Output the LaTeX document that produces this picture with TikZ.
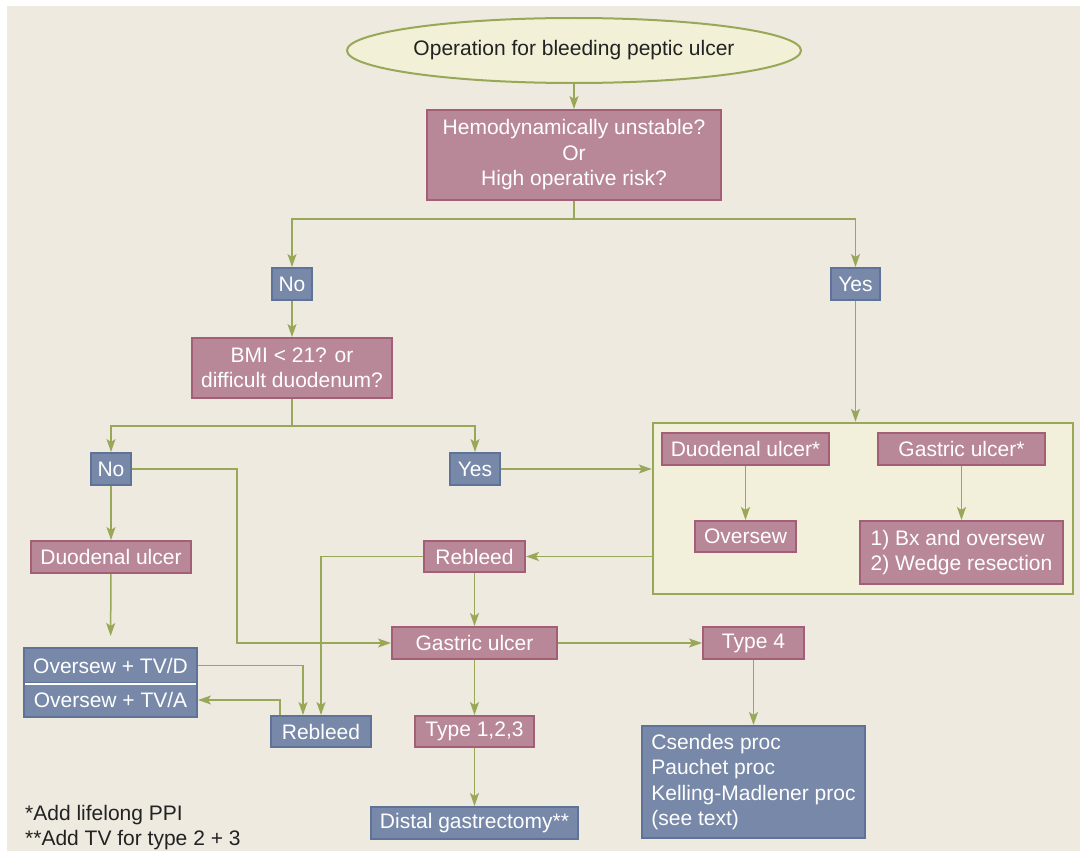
\documentclass[tikz,border=0pt]{standalone}
\usepackage{fontspec}
\setmainfont{Liberation Sans}
\usetikzlibrary{arrows.meta,shapes.geometric}
\definecolor{bg}{HTML}{EEEAE0}
\definecolor{pinkfill}{HTML}{B98898}
\definecolor{pinkdraw}{HTML}{A35E78}
\definecolor{bluefill}{HTML}{7788A8}
\definecolor{bluedraw}{HTML}{5F7398}
\definecolor{lgreen}{HTML}{98A858}
\definecolor{contfill}{HTML}{F2F0DA}
\definecolor{ellfill}{HTML}{F2F1D8}
\definecolor{ink}{HTML}{222222}
\begin{document}
\begin{tikzpicture}[x=1pt,y=-1pt,
  every node/.style={font=\fontsize{21}{25.5}\selectfont, inner sep=0pt},
  pbox/.style 2 args={rectangle, draw=pinkdraw, fill=pinkfill, line width=2pt, text=white, align=center, minimum width=#1pt, minimum height=#2pt},
  bbox/.style 2 args={rectangle, draw=bluedraw, fill=bluefill, line width=2pt, text=white, align=center, minimum width=#1pt, minimum height=#2pt},
  arr/.style={draw=lgreen, line width=1.5pt, -{Stealth[length=13pt,width=9pt,inset=3pt]}},
  ln/.style={draw=lgreen, line width=1.5pt}
]
\useasboundingbox (0,0) rectangle (1080,851);
\fill[white] (0,0) rectangle (1080,851);
\fill[bg] (7,6) rectangle (1080,851);

% container
\node[rectangle, draw=lgreen, fill=contfill, line width=2.5pt, minimum width=420pt, minimum height=171pt] (cont) at (863,508.5) {};

\node[ellipse, draw=lgreen, fill=ellfill, line width=2pt, text=ink, minimum width=376pt, minimum height=65pt] (ell) at (574,50.5) {Operation for bleeding peptic ulcer};
\node[pbox={294}{90}] (hemo) at (574,155) {Hemodynamically unstable?\\Or\\High operative risk?};
\node[bbox={40}{32}] (no1) at (292,284) {No};
\node[bbox={49}{32}] (yes1) at (855.5,284) {Yes};
\node[pbox={200}{60}] (bmi) at (292,368) {BMI < 21? or\\difficult duodenum?};
\node[bbox={40}{32}] (no2) at (111,469) {No};
\node[bbox={50}{32}] (yes2) at (475,469) {Yes};
\node[pbox={167}{32}] (dustar) at (745.5,449) {Duodenal ulcer*};
\node[pbox={167}{32}] (gastar) at (961.5,449) {Gastric ulcer*};
\node[pbox={101}{31}] (oversew) at (745.5,536.5) {Oversew};
\node[pbox={203}{63}, align=left] (bx) at (961.5,552.5) {1) Bx and oversew\\2) Wedge resection};
\node[pbox={160}{32}] (du) at (111,557) {Duodenal ulcer};
\node[pbox={101}{31}] (rb1) at (474.5,556.5) {Rebleed};
\node[pbox={165}{32}] (gu) at (474.5,643) {Gastric ulcer};
\node[pbox={101}{32}] (t4) at (753.5,643) {Type 4};
\node[bbox={173}{35}] (tvd) at (110.5,665.5) {Oversew + TV/D};
\node[bbox={173}{34}] (tva) at (110.5,700) {Oversew + TV/A};
\draw[white, line width=2pt] ([xshift=2pt]tvd.south west) -- ([xshift=-2pt]tvd.south east);
\node[bbox={100}{31}] (rb2) at (321,731.5) {Rebleed};
\node[pbox={119}{31}] (t123) at (474.5,731.5) {Type 1,2,3};
\node[bbox={207}{32}] (distal) at (474.5,823) {Distal gastrectomy**};
\node[bbox={223}{112}, align=left] (cs) at (753.5,782) {Csendes proc\\Pauchet proc\\Kelling-Madlener proc\\(see text)};

\node[anchor=base west, text=ink] (fn1) at (25,820) {*Add lifelong PPI};
\node[anchor=base west, text=ink] (fn2) at (25,845) {**Add TV for type 2 + 3};

% connectors
\draw[arr] (ell) -- (hemo);
\draw[arr] (hemo.south) -- ++(0,18) -| (no1.north);
\draw[arr] (hemo.south) -- ++(0,18) -| (yes1.north);
\draw[arr] (no1) -- (bmi);
\draw[arr] (bmi.south) -- ++(0,27) -| (no2.north);
\draw[arr] (bmi.south) -- ++(0,27) -| (yes2.north);
\draw[arr] (yes1.south) -- (yes1.south |- cont.north);
\draw[arr] (yes2.east) -- (yes2 -| cont.west);
\draw[arr] (no2.east) -- ++(105,0) |- (gu.west);
\draw[arr] (no2) -- (du);
\draw[arr, shorten >=11pt] (du) -- (tvd);
\draw[arr] (tvd.east) -| ([xshift=-18pt]rb2.north);
\draw[arr] ([xshift=-41pt]rb2.north) |- (tva.east);
\draw[arr] (rb1.west) -| (rb2.north);
\draw[arr] (rb1 -| cont.west) -- (rb1.east);
\draw[arr] (rb1) -- (gu);
\draw[arr] (gu) -- (t123);
\draw[arr] (t123) -- (distal);
\draw[arr] (gu) -- (t4);
\draw[arr] (t4) -- (cs);
\draw[arr] (dustar) -- (oversew);
\draw[arr] (gastar) -- (bx);
\end{tikzpicture}
\end{document}
